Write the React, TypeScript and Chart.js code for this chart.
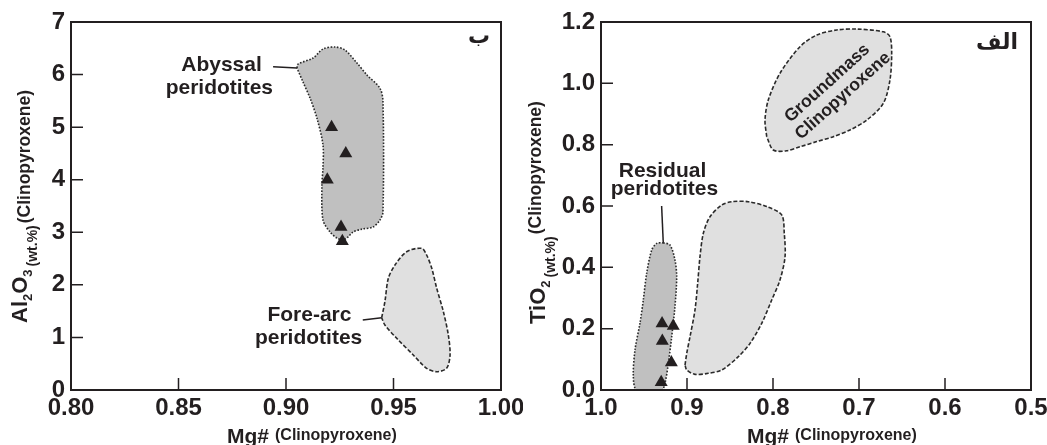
import React, { useEffect, useRef } from 'react';
import { Chart, registerables } from 'chart.js';

Chart.register(...registerables);

const FONT = "'Liberation Sans', Arial, sans-serif";
const INK = '#231f20';

// ---------------- Left panel (ب): Al2O3 vs Mg# ----------------
const leftXTicks = [0.8, 0.85, 0.9, 0.95, 1.0];
const leftXTickLabels = ['0.80', '0.85', '0.90', '0.95', '1.00'];
const leftYTicks = [0, 1, 2, 3, 4, 5, 6, 7];
const leftYTickLabels = ['0', '1', '2', '3', '4', '5', '6', '7'];

const abyssalMg = [0.9051, 0.9056, 0.9126, 0.9172, 0.9228, 0.9274, 0.933, 0.9377, 0.9437, 0.9451, 0.9451, 0.9437, 0.9405, 0.9353, 0.9312, 0.9288, 0.9265, 0.9237, 0.9205, 0.9172, 0.9167, 0.9172, 0.9172, 0.9144, 0.9112, 0.9079, 0.9051];
const abyssalAl = [6.125, 6.2, 6.315, 6.486, 6.525, 6.467, 6.22, 5.99, 5.74, 5.48, 3.386, 3.234, 3.1, 3.06, 3.005, 2.91, 2.853, 2.89, 3.005, 3.234, 3.9, 4.22, 4.66, 5.17, 5.55, 5.86, 6.125];

const foreArcMg = [0.9445, 0.946, 0.9476, 0.9507, 0.9561, 0.9631, 0.9654, 0.9678, 0.9701, 0.9732, 0.9755, 0.9763, 0.9747, 0.9701, 0.9654, 0.9592, 0.9515, 0.946, 0.9445];
const foreArcAl = [1.375, 1.68, 2.125, 2.378, 2.63, 2.695, 2.568, 2.315, 1.935, 1.49, 1.046, 0.666, 0.413, 0.348, 0.413, 0.666, 0.983, 1.236, 1.375];

const leftSampleMg = [0.9212, 0.9278, 0.9192, 0.9256, 0.9262];
const leftSampleAl = [5.0, 4.5, 4.0, 3.1, 2.83];

const abyssalLeaderMg = [0.894, 0.9051];
const abyssalLeaderAl = [6.15, 6.125];
const foreArcLeaderMg = [0.9357, 0.9445];
const foreArcLeaderAl = [1.33, 1.375];

const leftLabelText = ['Abyssal', 'peridotites', 'Fore-arc', 'peridotites'];
const leftLabelMg = [0.870, 0.869, 0.9109, 0.9105];
const leftLabelAl = [6.07, 5.63, 1.318, 0.875];

// ---------------- Right panel (الف): TiO2 vs Mg# ----------------
const rightXTicks = [1.0, 0.9, 0.8, 0.7, 0.6, 0.5];
const rightXTickLabels = ['1.0', '0.9', '0.8', '0.7', '0.6', '0.5'];
const rightYTicks = [0, 0.2, 0.4, 0.6, 0.8, 1.0, 1.2];
const rightYTickLabels = ['0.0', '0.2', '0.4', '0.6', '0.8', '1.0', '1.2'];

const residualMg = [0.9276, 0.9198, 0.914, 0.912, 0.914, 0.9178, 0.9217, 0.9256, 0.9294, 0.9585, 0.9624, 0.9605, 0.9547, 0.9508, 0.9469, 0.941, 0.9352, 0.9276];
const residualTi = [0.48, 0.473, 0.424, 0.3695, 0.2717, 0.174, 0.087, 0.022, 0.0, 0.0, 0.0434, 0.13, 0.2175, 0.2935, 0.3805, 0.4565, 0.478, 0.48];

const outerFieldMg = [0.9023, 0.9003, 0.8965, 0.8907, 0.8876, 0.8849, 0.881, 0.8733, 0.8597, 0.848, 0.8287, 0.8073, 0.7899, 0.7869, 0.786, 0.7919, 0.8015, 0.8131, 0.8267, 0.8403, 0.8597, 0.8752, 0.8907, 0.9003, 0.9023];
const outerFieldTi = [0.0815, 0.1197, 0.1738, 0.261, 0.348, 0.4347, 0.511, 0.565, 0.603, 0.614, 0.614, 0.598, 0.571, 0.511, 0.4347, 0.3587, 0.2935, 0.2175, 0.152, 0.1086, 0.0652, 0.0545, 0.051, 0.0652, 0.0815];

const groundmassMg = [0.8073, 0.8093, 0.8055, 0.7919, 0.7686, 0.7492, 0.7259, 0.7027, 0.6717, 0.664, 0.662, 0.664, 0.6717, 0.691, 0.7105, 0.7299, 0.7492, 0.7686, 0.7841, 0.7997, 0.8073];
const groundmassTi = [0.826, 0.88, 0.9457, 1.0327, 1.1195, 1.1576, 1.174, 1.177, 1.168, 1.152, 1.098, 1.011, 0.935, 0.88, 0.848, 0.826, 0.81, 0.793, 0.78, 0.7826, 0.826];

const rightSampleMg = [0.929, 0.916, 0.9287, 0.9182, 0.93];
const rightSampleTi = [0.217, 0.209, 0.16, 0.09, 0.025];

const residualLeaderMg = [0.9295, 0.9276];
const residualLeaderTi = [0.6, 0.48];

const rightLabelText = ['Residual', 'peridotites', 'Groundmass', 'Clinopyroxene'];
const rightLabelMg = [0.9285, 0.9262, 0.7369, 0.7186];
const rightLabelTi = [0.6956, 0.636, 1.0, 0.9587];

// ---------------------------------------------------------------
type Seg = { t: string; size: number; dy: number; gap?: number };
type Label = { text: string; x: number; y: number; size: number; angle?: number; baseline?: CanvasTextBaseline };

const zip = (xs: number[], ys: number[]) => xs.map((x, i) => ({ x, y: ys[i] }));

function drawRich(ctx: CanvasRenderingContext2D, segs: Seg[], x0: number, y0: number) {
  let x = x0;
  for (const s of segs) {
    ctx.font = `bold ${s.size}px ${FONT}`;
    ctx.fillText(s.t, x, y0 + s.dy);
    x += ctx.measureText(s.t).width + (s.gap || 0);
  }
}

type PanelCfg = {
  width: number;
  padRight: number;
  yAxisWidth: number;
  xMin: number; xMax: number; reverse: boolean;
  yMin: number; yMax: number;
  xTicks: number[]; xTickLabels: string[];
  yTicks: number[]; yTickLabels: string[];
  fields: { x: number[]; y: number[]; fill: string; dash: number[] }[];
  leaders: { x: number[]; y: number[] }[];
  samples: { x: number[]; y: number[] };
  labels: Label[];
  panelText: string; panelDx: number; panelDy: number;
  xTitle: { x: number; y: number; segs: Seg[] };
  yTitle: { x: number; y: number; segs: Seg[] };
};

function makePanelPlugin(p: PanelCfg) {
  return {
    id: 'panelDecor',
    afterDraw(chart: any) {
      const { ctx, chartArea: a, scales } = chart;
      const xs = scales.x;
      const ys = scales.y;
      ctx.save();
      ctx.strokeStyle = INK;
      ctx.lineWidth = 2;
      ctx.strokeRect(a.left, a.top, a.right - a.left, a.bottom - a.top);
      ctx.lineWidth = 1.5;
      ctx.beginPath();
      for (const t of xs.ticks) {
        const px = xs.getPixelForValue(t.value);
        if (px <= a.left + 2 || px >= a.right - 2) continue;
        ctx.moveTo(px, a.bottom);
        ctx.lineTo(px, a.bottom - 12);
      }
      for (const t of ys.ticks) {
        const py = ys.getPixelForValue(t.value);
        if (py <= a.top + 2 || py >= a.bottom - 2) continue;
        ctx.moveTo(a.left, py);
        ctx.lineTo(a.left + 12, py);
      }
      ctx.stroke();

      ctx.fillStyle = INK;
      for (const l of p.labels) {
        ctx.save();
        ctx.font = `bold ${l.size}px ${FONT}`;
        ctx.textAlign = 'center';
        ctx.textBaseline = l.baseline || 'alphabetic';
        ctx.translate(xs.getPixelForValue(l.x), ys.getPixelForValue(l.y));
        if (l.angle) ctx.rotate((l.angle * Math.PI) / 180);
        ctx.fillText(l.text, 0, 0);
        ctx.restore();
      }

      ctx.font = `bold 22px 'DejaVu Sans'`;
      ctx.textAlign = 'right';
      ctx.textBaseline = 'alphabetic';
      ctx.fillText(p.panelText, a.right - p.panelDx, a.top + p.panelDy);

      ctx.textAlign = 'left';
      drawRich(ctx, p.xTitle.segs, p.xTitle.x, p.xTitle.y);
      ctx.translate(p.yTitle.x, p.yTitle.y);
      ctx.rotate(-Math.PI / 2);
      drawRich(ctx, p.yTitle.segs, 0, 0);
      ctx.restore();
    },
  };
}

function buildConfig(p: PanelCfg): any {
  const tickFont = { family: FONT, weight: 'bold' as const, size: 24 };
  const datasets: any[] = [
    {
      data: zip(p.samples.x, p.samples.y),
      showLine: false,
      pointStyle: 'triangle',
      pointRadius: 7.5,
      pointHoverRadius: 7.5,
      pointBackgroundColor: INK,
      pointBorderColor: INK,
      pointBorderWidth: 0,
      order: 0,
    },
    ...p.leaders.map((l) => ({
      data: zip(l.x, l.y),
      borderColor: INK,
      borderWidth: 1.5,
      pointRadius: 0,
      fill: false,
      tension: 0,
      order: 1,
    })),
    ...p.fields.map((f) => ({
      data: zip(f.x, f.y),
      fill: 'shape',
      backgroundColor: f.fill,
      borderColor: '#2a2a2a',
      borderWidth: 1.6,
      borderDash: f.dash,
      pointRadius: 0,
      tension: 0.3,
      order: 2,
    })),
  ];
  return {
    type: 'line',
    data: { datasets },
    options: {
      responsive: false,
      animation: false,
      events: [],
      layout: { padding: { top: 22, right: p.padRight, left: 0, bottom: 0 } },
      plugins: { legend: { display: false }, tooltip: { enabled: false } },
      scales: {
        x: {
          type: 'linear',
          position: 'bottom',
          min: p.xMin,
          max: p.xMax,
          reverse: p.reverse,
          grid: { display: false, drawTicks: false },
          border: { display: false },
          afterBuildTicks: (s: any) => {
            s.ticks = p.xTicks.map((v) => ({ value: v }));
          },
          afterFit: (s: any) => {
            s.height = 55;
            s.paddingLeft = 0;
            s.paddingRight = 0;
          },
          ticks: {
            autoSkip: false,
            maxRotation: 0,
            padding: 4,
            color: INK,
            font: tickFont,
            callback: (_v: any, i: number) => p.xTickLabels[i],
          },
        },
        y: {
          type: 'linear',
          min: p.yMin,
          max: p.yMax,
          grid: { display: false, drawTicks: false },
          border: { display: false },
          afterBuildTicks: (s: any) => {
            s.ticks = p.yTicks.map((v) => ({ value: v }));
          },
          afterFit: (s: any) => {
            s.width = p.yAxisWidth;
          },
          ticks: {
            autoSkip: false,
            padding: 6,
            color: INK,
            font: tickFont,
            callback: (_v: any, i: number) => p.yTickLabels[i],
          },
        },
      },
    },
    plugins: [makePanelPlugin(p)],
  };
}

const DARK = '#c0c0c0';
const LIGHT = '#e0e0e0';
const DOT = [1.6, 1.6];
const DASH = [4, 2];

const leftPanel: PanelCfg = {
  width: 523,
  padRight: 22,
  yAxisWidth: 71,
  xMin: 0.8, xMax: 1.0, reverse: false,
  yMin: 0, yMax: 7,
  xTicks: leftXTicks, xTickLabels: leftXTickLabels,
  yTicks: leftYTicks, yTickLabels: leftYTickLabels,
  fields: [
    { x: abyssalMg, y: abyssalAl, fill: DARK, dash: DOT },
    { x: foreArcMg, y: foreArcAl, fill: LIGHT, dash: DASH },
  ],
  leaders: [
    { x: abyssalLeaderMg, y: abyssalLeaderAl },
    { x: foreArcLeaderMg, y: foreArcLeaderAl },
  ],
  samples: { x: leftSampleMg, y: leftSampleAl },
  labels: leftLabelText.map((t, i) => ({ text: t, x: leftLabelMg[i], y: leftLabelAl[i], size: 21 })),
  panelText: 'ب', panelDx: 11, panelDy: 21,
  xTitle: {
    x: 227, y: 443,
    segs: [
      { t: 'Mg#', size: 21, dy: 0, gap: 6 },
      { t: '(Clinopyroxene)', size: 16, dy: -3 },
    ],
  },
  yTitle: {
    x: 27, y: 323,
    segs: [
      { t: 'Al', size: 22, dy: 0 },
      { t: '2', size: 13, dy: 5 },
      { t: 'O', size: 22, dy: 0 },
      { t: '3', size: 13, dy: 5, gap: 3 },
      { t: '(wt.%)', size: 14, dy: 10, gap: 2 },
      { t: '(Clinopyroxene)', size: 17.5, dy: 3 },
    ],
  },
};

const rightPanel: PanelCfg = {
  width: 524,
  padRight: 16,
  yAxisWidth: 78,
  xMin: 0.5, xMax: 1.0, reverse: true,
  yMin: 0, yMax: 1.2,
  xTicks: rightXTicks, xTickLabels: rightXTickLabels,
  yTicks: rightYTicks, yTickLabels: rightYTickLabels,
  fields: [
    { x: residualMg, y: residualTi, fill: DARK, dash: DOT },
    { x: outerFieldMg, y: outerFieldTi, fill: LIGHT, dash: DASH },
    { x: groundmassMg, y: groundmassTi, fill: LIGHT, dash: DASH },
  ],
  leaders: [{ x: residualLeaderMg, y: residualLeaderTi }],
  samples: { x: rightSampleMg, y: rightSampleTi },
  labels: rightLabelText.map((t, i) =>
    i < 2
      ? { text: t, x: rightLabelMg[i], y: rightLabelTi[i], size: 21 }
      : { text: t, x: rightLabelMg[i], y: rightLabelTi[i], size: 17.5, angle: -42, baseline: 'middle' as CanvasTextBaseline }
  ),
  panelText: 'الف', panelDx: 13, panelDy: 27,
  xTitle: {
    x: 224, y: 443,
    segs: [
      { t: 'Mg#', size: 21, dy: 0, gap: 6 },
      { t: '(Clinopyroxene)', size: 16, dy: -3 },
    ],
  },
  yTitle: {
    x: 22, y: 324,
    segs: [
      { t: 'TiO', size: 22, dy: 0 },
      { t: '2', size: 13, dy: 5, gap: 3 },
      { t: '(wt.%)', size: 14, dy: 10, gap: 2 },
      { t: '(Clinopyroxene)', size: 17.5, dy: -4 },
    ],
  },
};

function Panel({ cfg, left }: { cfg: PanelCfg; left: number }) {
  const ref = useRef<HTMLCanvasElement | null>(null);
  useEffect(() => {
    if (!ref.current) return;
    const chart = new Chart(ref.current, buildConfig(cfg));
    return () => chart.destroy();
  }, [cfg]);
  return (
    <canvas
      ref={ref}
      width={cfg.width}
      height={445}
      style={{ position: 'absolute', left, top: 0, width: cfg.width, height: 445 }}
    />
  );
}

export default function App() {
  return (
    <div style={{ position: 'fixed', left: 0, top: 0, width: 1047, height: 445, background: '#fff', overflow: 'hidden' }}>
      <Panel cfg={leftPanel} left={0} />
      <Panel cfg={rightPanel} left={523} />
    </div>
  );
}
